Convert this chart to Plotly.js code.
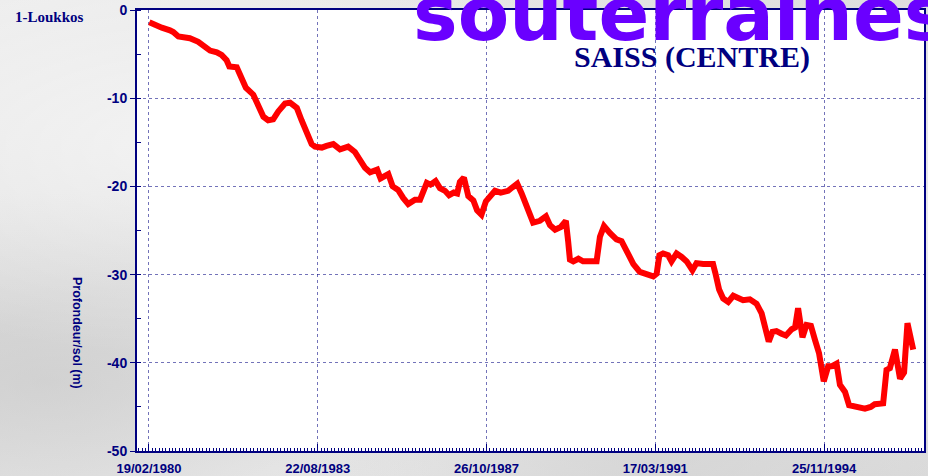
<!DOCTYPE html>
<html>
<head>
<meta charset="utf-8">
<script src="https://cdn.plot.ly/plotly-3.0.1.min.js"></script>
<style>
  html, body { margin: 0; padding: 0; }
  body {
    width: 928px; height: 476px; overflow: hidden;
    background:
      radial-gradient(ellipse at 20% 30%, rgba(255,255,255,0.55), rgba(255,255,255,0) 45%),
      radial-gradient(ellipse at 70% 90%, rgba(200,200,200,0.5), rgba(200,200,200,0) 40%),
      radial-gradient(ellipse at 5% 80%, rgba(190,190,190,0.45), rgba(190,190,190,0) 35%),
      linear-gradient(160deg, #ececec 0%, #dedede 40%, #eaeaea 70%, #dcdcdc 100%);
  }
  #chart { width: 928px; height: 476px; }
</style>
</head>
<body>
<div id="chart"></div>
<script>
// Observation index (about 50 observations between labelled dates)
const obsIndex = [
  0.1, 1.8, 3.8, 6.2, 7.2, 8.7, 10.2, 12.1, 14.6, 16.1, 18.1, 20.1, 21.5, 23.0, 23.8, 26.0,
  27.5, 28.7, 30.9, 32.4, 33.9, 35.3, 36.8, 38.3, 40.3, 41.8, 43.8, 45.2, 46.7, 48.2, 49.2,
  51.2, 52.6, 54.6, 56.6, 59.0, 61.0, 62.5, 64.0, 65.5, 67.6, 68.6, 70.9, 72.2, 73.8, 75.3,
  76.8, 78.8, 80.3, 82.3, 83.4, 84.9, 86.2, 87.7, 88.9, 90.3, 91.3, 92.1, 93.3, 94.6, 96.1,
  97.2, 98.5, 99.8, 101.0, 102.5, 104.2, 106.4, 107.7, 109.1, 110.4, 111.9, 113.8, 115.8,
  117.6, 118.8, 120.3, 122.0, 123.5, 124.2, 124.7, 125.7, 127.2, 128.6, 131.6, 132.6, 133.6,
  134.8, 136.6, 138.5, 140.0, 141.5, 143.5, 145.4, 147.4, 149.4, 150.4, 151.2, 152.3, 153.8,
  154.8, 156.3, 157.8, 159.3, 161.0, 162.2, 164.2, 167.1, 167.9, 168.9, 170.1, 171.6, 173.1,
  174.6, 176.0, 178.0, 180.0, 181.5, 182.5, 183.6, 184.7, 185.9, 187.4, 188.7, 190.4, 191.4,
  192.3, 193.6, 194.8, 196.1, 197.3, 198.5, 199.9, 201.2, 202.2, 203.7, 204.7, 206.2, 207.4,
  209.6, 212.1, 213.8, 215.0, 217.5, 218.5, 219.5, 221.0, 222.5, 223.7, 224.7, 226.4
];
// Depth below ground (m)
const depth = [
  -1.4, -1.6, -2.0, -2.3, -2.5, -3.0, -3.1, -3.2, -3.6, -4.0, -4.6, -4.8, -5.1, -5.7, -6.4, -6.5,
  -7.7, -8.8, -9.6, -11.0, -12.1, -12.5, -12.4, -11.5, -10.6, -10.5, -11.1, -12.5, -14.0, -15.2, -15.5,
  -15.6, -15.4, -15.2, -15.8, -15.5, -16.1, -17.0, -17.9, -18.4, -18.1, -19.1, -18.6, -20.0, -20.4, -21.3,
  -22.0, -21.5, -21.5, -19.6, -19.8, -19.4, -20.2, -20.5, -21.0, -20.7, -20.8, -19.5, -19.0, -21.1, -21.6,
  -22.7, -23.2, -21.7, -21.2, -20.5, -20.7, -20.5, -20.1, -19.7, -20.8, -22.3, -24.1, -23.9,
  -23.4, -24.4, -24.9, -24.6, -23.9, -26.3, -28.3, -28.5, -28.2, -28.5, -28.6, -28.5, -25.7,
  -24.5, -25.3, -26.0, -26.2, -27.2, -28.8, -29.7, -29.9, -30.2, -29.9, -27.8, -27.6, -27.8,
  -28.5, -27.6, -28.0, -28.5, -29.5, -28.7, -28.8, -28.8, -30.0, -31.7, -32.7, -33.1, -32.4,
  -32.7, -32.9, -32.8, -33.3, -34.4, -35.9, -37.6, -36.5, -36.4, -36.7, -36.9, -36.2, -36.0,
  -33.8, -37.1, -35.7, -35.8, -37.4, -38.9, -42.1, -40.4, -40.4, -40.1, -42.5, -43.3, -44.8,
  -45.0, -45.2, -45.0, -44.7, -44.6, -40.8, -40.6, -38.5, -41.8, -41.1, -35.5, -38.5
];
const tickObs = [0, 50, 100, 150, 200];
const tickDates = ['19/02/1980', '22/08/1983', '26/10/1987', '17/03/1991', '25/11/1994'];
const depthTicks = [0, -10, -20, -30, -40, -50];

const navy = '#000080';
const trace = {
  x: obsIndex, y: depth, type: 'scatter', mode: 'lines',
  line: { color: '#ff0000', width: 6 },
  hoverinfo: 'skip'
};

const layout = {
  width: 928, height: 476,
  margin: { l: 137, r: 4, t: 10, b: 25 },
  paper_bgcolor: 'rgba(0,0,0,0)',
  plot_bgcolor: '#ffffff',
  showlegend: false,
  xaxis: {
    range: [-3.55, 229.6],
    tickmode: 'array', tickvals: tickObs, ticktext: tickDates,
    ticks: 'inside', ticklen: 7, tickwidth: 1, tickcolor: navy,
    showline: true, linecolor: navy, linewidth: 2, mirror: true,
    showgrid: true, gridcolor: 'rgba(0,0,128,0.55)', gridwidth: 1, griddash: 'dot',
    zeroline: false,
    tickfont: { family: 'Liberation Sans, Arial, sans-serif', size: 13, color: navy, weight: 'bold' },
    ticklabelstandoff: 4,
    minor: { dtick: 1, ticks: 'inside', ticklen: 3, tickcolor: navy, tickwidth: 1, showgrid: false },
    fixedrange: true
  },
  yaxis: {
    range: [-50, 0],
    tickmode: 'array', tickvals: depthTicks, ticktext: depthTicks.map(String),
    ticks: 'outside', ticklen: 5, tickwidth: 1, tickcolor: navy,
    showline: true, linecolor: navy, linewidth: 2, mirror: true,
    showgrid: true, gridcolor: 'rgba(0,0,128,0.55)', gridwidth: 1, griddash: 'dot',
    zeroline: false,
    tickfont: { family: 'Liberation Sans, Arial, sans-serif', size: 14, color: navy, weight: 'bold' },
    minor: { dtick: 5, ticks: 'inside', ticklen: 4, tickcolor: navy, tickwidth: 1, showgrid: false },
    fixedrange: true
  },
  annotations: [
    {
      text: 'souterraines', xref: 'paper', yref: 'paper',
      x: 0.348, y: 0.99, xanchor: 'left', yanchor: 'middle', showarrow: false,
      font: { family: 'DejaVu Sans, sans-serif', size: 75, color: '#6a00ff', weight: 'bold' }
    },
    {
      text: 'SAISS (CENTRE)', xref: 'paper', yref: 'paper',
      x: 0.705, y: 0.893, xanchor: 'center', yanchor: 'middle', showarrow: false,
      font: { family: 'Liberation Serif, Times New Roman, serif', size: 30, color: navy, weight: 'bold' }
    },
    {
      text: '1-Loukkos', xref: 'paper', yref: 'paper',
      x: -0.157, y: 0.985, xanchor: 'left', yanchor: 'middle', showarrow: false,
      font: { family: 'Liberation Serif, Times New Roman, serif', size: 15, color: navy, weight: 'bold' }
    },
    {
      text: 'Profondeur/sol (m)', xref: 'paper', yref: 'paper',
      x: -0.0762, y: 0.2676, xanchor: 'center', yanchor: 'middle', showarrow: false,
      textangle: 90,
      font: { family: 'Liberation Sans, Arial, sans-serif', size: 12.5, color: navy, weight: 'bold' }
    }
  ]
};

Plotly.newPlot('chart', [trace], layout, { displayModeBar: false, staticPlot: true });
</script>
</body>
</html>
